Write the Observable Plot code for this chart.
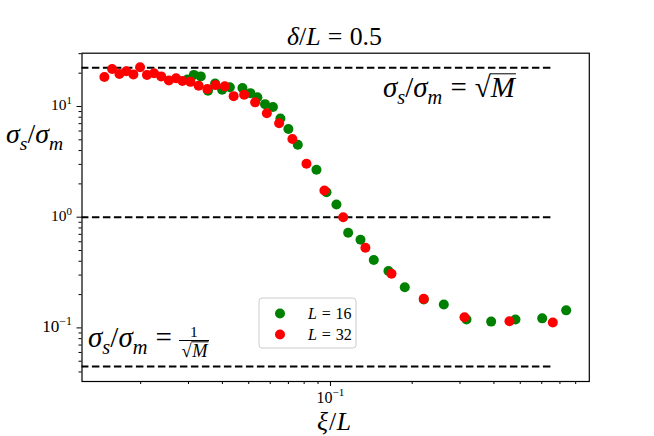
<!DOCTYPE html>
<html><head><meta charset="utf-8">
<script src="https://cdn.jsdelivr.net/npm/d3@7"></script>
<script src="https://cdn.jsdelivr.net/npm/@observablehq/plot@0.6"></script>
<style>html,body{margin:0;padding:0;background:#fff;} svg{display:block}</style>
</head><body><div id="chart"></div>
<script>
// ---- data ----
const xi16 = [0.0297,0.0314,0.0333,0.0354,0.0376,0.0399,0.0426,0.0474,0.0507,0.0538,0.0574,0.0614,0.0654,0.0700,0.0758,0.0888,0.0967,0.1052,0.1162,0.1290,0.1444,0.1635,0.1878,0.2206,0.2615,0.3169,0.3907,0.4802,0.6023,0.7381];
const sig16 = [17.5,19.3,18.7,13.9,16.1,14.2,14.9,14.7,13.2,12.1,10.5,9.9,7.8,6.26,4.51,2.68,1.68,1.30,0.723,0.625,0.411,0.327,0.233,0.181,0.163,0.119,0.114,0.119,0.122,0.144];
const xi32 = [0.0147,0.0157,0.0167,0.0177,0.0188,0.0199,0.0211,0.0224,0.0238,0.0254,0.0270,0.0285,0.0305,0.0327,0.0352,0.0377,0.0408,0.0440,0.0481,0.0528,0.0583,0.0647,0.0724,0.0816,0.0950,0.1114,0.1345,0.1678,0.2206,0.3116,0.4563,0.6590];
const sig32 = [18.5,21.8,19.7,20.8,19.5,22.6,19.3,20.0,18.7,17.2,18.0,17.0,16.7,15.4,14.4,15.6,15.2,12.4,12.8,10.9,8.70,7.07,5.09,3.04,1.74,1.00,0.529,0.308,0.183,0.125,0.115,0.112];
const M = 500;
const refLevels = [Math.sqrt(M), 1, 1 / Math.sqrt(M)];
const refLineX = [0.0121, 0.66];
const xDomain = [0.01216, 0.898];
const yDomain = [0.0328, 30.3];
const xMajor = [0.1];
const xMajorExp = ["−1"];
const xMinor = [0.02,0.03,0.04,0.05,0.06,0.07,0.08,0.09,0.2,0.3,0.4,0.5,0.6,0.7,0.8];
const yMajor = [0.1, 1, 10];
const yMajorExp = ["−1", "0", "1"];
const yMinor = [0.04,0.05,0.06,0.07,0.08,0.09,0.2,0.3,0.4,0.5,0.6,0.7,0.8,0.9,2,3,4,5,6,7,8,9,20,30];
const seriesNames = ["L = 16", "L = 32"];
const seriesColors = ["green", "red"];

const d16 = xi16.map((x, i) => ({x, y: sig16[i]}));
const d32 = xi32.map((x, i) => ({x, y: sig32[i]}));
const SERIF = "'Liberation Serif', 'DejaVu Serif', serif";

const plot = Plot.plot({
  width: 654, height: 436,
  marginLeft: 81.5, marginRight: 65.2, marginTop: 52.7, marginBottom: 55,
  x: {type: "log", domain: xDomain},
  y: {type: "log", domain: yDomain},
  style: {fontFamily: SERIF, fontSize: "15px", color: "black", background: "white"},
  marks: [
    Plot.ruleY(refLevels, {y: d => d, x1: refLineX[0], x2: refLineX[1], stroke: "black", strokeWidth: 2, strokeDasharray: "7.5,3.5", clip: true}),
    Plot.dot(d16, {x: "x", y: "y", r: 5, fill: seriesColors[0]}),
    Plot.dot(d32, {x: "x", y: "y", r: 5, fill: seriesColors[1]}),
    Plot.frame({stroke: "black", strokeWidth: 1.2}),
    Plot.axisX(xMajor, {tickSize: 5, tickFormat: () => "", label: null}),
    Plot.axisX(xMinor, {tickSize: 3, tickFormat: () => "", label: null}),
    Plot.axisY(yMajor, {tickSize: 5, tickFormat: () => "", label: null}),
    Plot.axisY(yMinor, {tickSize: 3, tickFormat: () => "", label: null})
  ]
});
document.getElementById("chart").appendChild(plot);
const svg = d3.select(plot);
const sx = plot.scale("x"), sy = plot.scale("y");

// parts: {t, it, sub, sup, dx (in em of base size)}
function build(x, y, parts, size, anchor) {
  const t = svg.append("text").attr("x", x).attr("y", y).style("font-size", size + "px")
    .attr("text-anchor", anchor).style("font-family", SERIF).attr("fill", "black");
  let shift = 0;
  for (const p of parts) {
    const ts = t.append("tspan").text(p.t);
    if (p.it) ts.style("font-style", "italic");
    const target = p.sub ? size * 0.25 : p.sup ? -size * 0.42 : 0;
    if (target !== shift) { ts.attr("dy", target - shift); shift = target; }
    if (p.sub || p.sup) ts.style("font-size", (size * 0.7) + "px");
    if (p.dx) ts.attr("dx", p.dx * size);
  }
  return t;
}
// build text, then rescale so its width matches the reference width
function math(x, y, parts, size, anchor = "start", targetW = null) {
  let t = build(x, y, parts, size, anchor);
  if (targetW) {
    const w = t.node().getBBox().width;
    const s = size * targetW / w;
    t.remove();
    t = build(x, y, parts, s, anchor);
    t.datum(s);
  } else t.datum(size);
  return t;
}
function overline(t, idx) {
  const size = t.datum();
  const e = t.node().getExtentOfChar(idx);
  const y0 = +t.attr("y") - size * 0.80;
  svg.append("line").attr("x1", e.x - 1).attr("x2", e.x + e.width + 1)
    .attr("y1", y0).attr("y2", y0).attr("stroke", "black").attr("stroke-width", 1);
}
const sigmaRatio = () => [
  {t: "σ", it: true}, {t: "s", it: true, sub: true}, {t: "/"},
  {t: "σ", it: true}, {t: "m", it: true, sub: true}
];

// tick labels "10^k" with real superscripts, fitted to the reference widths
yMajor.forEach((v, i) => math(72, sy.apply(v) + 4.5, [{t: "10"}, {t: yMajorExp[i], sup: true}], 14, "end", yMajorExp[i].length > 1 ? 30 : 21));
xMajor.forEach((v, i) => math(sx.apply(v) + 0.5, 403, [{t: "10"}, {t: xMajorExp[i], sup: true}], 14, "middle", 28));

// title
math(287, 45, [{t: "δ", it: true}, {t: "/"}, {t: "L", it: true}, {t: "=", dx: 0.28}, {t: "0.5", dx: 0.28}], 20, "start", 95);
// axis labels
math(6, 143, sigmaRatio(), 21, "start", 57);
math(334, 430, [{t: "ξ", it: true}, {t: "/", dx: 0.04}, {t: "L", it: true, dx: 0.02}], 21, "middle", 34);
// annotation sqrt(M)
const a1 = math(383, 97, [...sigmaRatio(), {t: "=", dx: 0.28}, {t: "√", dx: 0.28}, {t: "M", it: true}], 21, "start", 134);
overline(a1, 7);
// annotation 1/sqrt(M)
math(88, 347, [...sigmaRatio(), {t: "=", dx: 0.28}], 21, "start", 84);
const a2 = math(194.5, 356.5, [{t: "√"}, {t: "M", it: true, dx: 0.04}], 16, "middle", 28);
overline(a2, 1);
math(194, 336.5, [{t: "1"}], a2.datum() * 0.85, "middle");
svg.append("line").attr("x1", 179).attr("x2", 209).attr("y1", 340.5).attr("y2", 340.5).attr("stroke", "black").attr("stroke-width", 1);

// legend
const lg = svg.append("g");
lg.append("rect").attr("x", 259).attr("y", 298).attr("width", 97).attr("height", 50).attr("rx", 3)
  .attr("fill", "white").attr("fill-opacity", 0.8).attr("stroke", "#cccccc");
seriesNames.forEach((name, i) => {
  const cy = 313.5 + i * 21;
  lg.append("circle").attr("cx", 280).attr("cy", cy).attr("r", 5).attr("fill", seriesColors[i]);
  const [lhs, rhs] = name.split(" = ");
  math(308, cy + 5, [{t: lhs, it: true}, {t: "=", dx: 0.3}, {t: rhs, dx: 0.3}], 15, "start", 45);
});
</script>
</body></html>
